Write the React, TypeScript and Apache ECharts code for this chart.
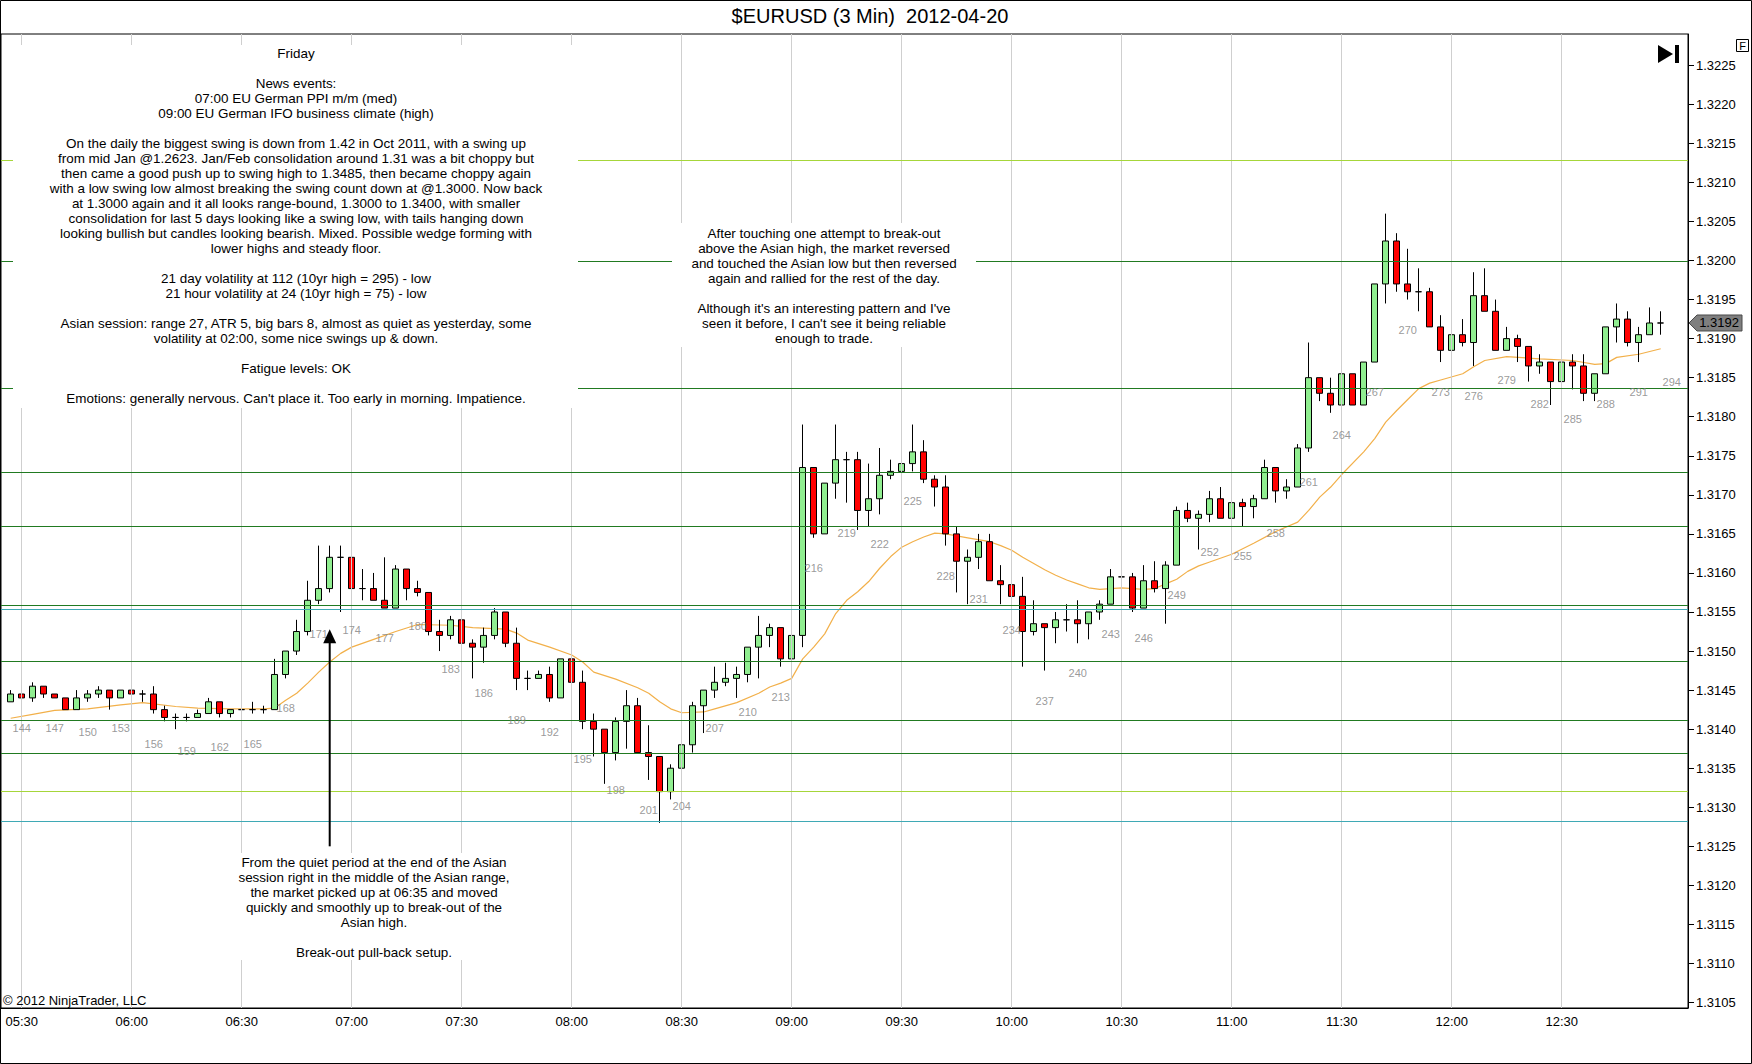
import React, { useEffect, useRef } from "react";
import * as echarts from "echarts";

// ---------- data (bar numbers 143..293, 3-minute bars) ----------
const FIRST_BAR = 143;

const opens = [
  1.31435, 1.31445, 1.3144, 1.31455, 1.31445, 1.3144, 1.31425, 1.3144, 1.31445, 1.3145,
  1.3144, 1.3145, 1.31445, 1.31445, 1.31425, 1.31415, 1.31415, 1.31415, 1.3142, 1.31435,
  1.3142, 1.31425, 1.31425, 1.31425, 1.31425, 1.3147, 1.315, 1.31525, 1.31565, 1.3158,
  1.3162, 1.3162, 1.3158, 1.3158, 1.31565, 1.31555, 1.31605, 1.3158, 1.31575, 1.31525,
  1.3152, 1.3154, 1.3151, 1.31505, 1.3152, 1.3155, 1.3151, 1.31465, 1.31465, 1.3147,
  1.3144, 1.3149, 1.3146, 1.3141, 1.314, 1.3137, 1.3141, 1.3143, 1.3137, 1.31365,
  1.3132, 1.3135, 1.3138, 1.3143, 1.3145, 1.3146, 1.31465, 1.3147, 1.31505, 1.3152,
  1.3153, 1.3149, 1.3152, 1.31735, 1.3165, 1.31715, 1.31745, 1.31745, 1.3168, 1.31695,
  1.31725, 1.3173, 1.3174, 1.31755, 1.3172, 1.3171, 1.3165, 1.31615, 1.3162, 1.3164,
  1.3159, 1.31585, 1.3157, 1.31525, 1.31535, 1.3153, 1.3154, 1.3154, 1.31535, 1.3155,
  1.3156, 1.31595, 1.31595, 1.31555, 1.3159, 1.3158, 1.3161, 1.3168, 1.3167, 1.31675,
  1.31695, 1.3167, 1.3169, 1.31685, 1.31695, 1.31735, 1.31705, 1.3171, 1.3176, 1.3185,
  1.3183, 1.31815, 1.31855, 1.31815, 1.3187, 1.3197, 1.32025, 1.3197, 1.3196, 1.3196,
  1.31915, 1.31885, 1.31905, 1.31895, 1.31955, 1.31935, 1.31885, 1.319, 1.3189, 1.31865,
  1.3187, 1.31845, 1.3187, 1.31865, 1.3183, 1.31855, 1.31915, 1.31925, 1.31895, 1.31905,
  1.3192,
];

const highs = [
  1.3145, 1.31445, 1.3146, 1.31455, 1.31445, 1.3144, 1.3145, 1.3145, 1.31455, 1.3145,
  1.3145, 1.3145, 1.3145, 1.31455, 1.3143, 1.3142, 1.3142, 1.31425, 1.3144, 1.31435,
  1.31425, 1.3143, 1.31435, 1.3143, 1.3149, 1.315, 1.3154, 1.3159, 1.31635, 1.31635,
  1.31635, 1.31625, 1.31605, 1.316, 1.3162, 1.3161, 1.31605, 1.3159, 1.31575, 1.3154,
  1.31545, 1.3156, 1.31515, 1.3153, 1.31555, 1.3155, 1.3153, 1.31475, 1.31475, 1.3148,
  1.3149, 1.31505, 1.31475, 1.3142, 1.314, 1.31415, 1.3145, 1.3144, 1.31405, 1.31365,
  1.31355, 1.31405, 1.31435, 1.3145, 1.3148, 1.31485, 1.3148, 1.31505, 1.31545, 1.31535,
  1.3153, 1.3152, 1.3179, 1.31735, 1.31715, 1.3179, 1.31755, 1.31755, 1.3174, 1.3176,
  1.31745, 1.31755, 1.3179, 1.3177, 1.31725, 1.31725, 1.3166, 1.3163, 1.3165, 1.3165,
  1.3161, 1.316, 1.31595, 1.31565, 1.31535, 1.3155, 1.3156, 1.31565, 1.3155, 1.31565,
  1.31605, 1.31615, 1.316, 1.3161, 1.31615, 1.31615, 1.31685, 1.3169, 1.3168, 1.31705,
  1.3171, 1.3169, 1.31695, 1.317, 1.31745, 1.31735, 1.3172, 1.31765, 1.31895, 1.3185,
  1.3185, 1.3189, 1.31855, 1.3187, 1.3197, 1.3206, 1.32035, 1.32015, 1.3199, 1.31965,
  1.3193, 1.3193, 1.31925, 1.31985, 1.3199, 1.3195, 1.31915, 1.31905, 1.3189, 1.3188,
  1.3187, 1.319, 1.3188, 1.3188, 1.31855, 1.31915, 1.31945, 1.31935, 1.31915, 1.3194,
  1.31935,
];

const lows = [
  1.31435, 1.3144, 1.31435, 1.3144, 1.3144, 1.31425, 1.31425, 1.31435, 1.3144, 1.31425,
  1.3144, 1.31445, 1.31435, 1.3142, 1.3141, 1.314, 1.3141, 1.31415, 1.3142, 1.31415,
  1.31415, 1.31415, 1.3142, 1.3142, 1.31425, 1.31465, 1.31495, 1.3152, 1.3156, 1.31575,
  1.3155, 1.31565, 1.31565, 1.31565, 1.31555, 1.31555, 1.31565, 1.3157, 1.3152, 1.315,
  1.31515, 1.31505, 1.31465, 1.31485, 1.31515, 1.31505, 1.3145, 1.3145, 1.31465, 1.31435,
  1.3144, 1.31455, 1.314, 1.31365, 1.3133, 1.3136, 1.31375, 1.3137, 1.31335, 1.3128,
  1.3131, 1.3134, 1.3137, 1.31395, 1.3144, 1.31455, 1.3144, 1.3146, 1.31465, 1.31505,
  1.3148, 1.3147, 1.31505, 1.31645, 1.3165, 1.31695, 1.3169, 1.31655, 1.3166, 1.31675,
  1.3172, 1.3172, 1.3173, 1.31715, 1.31685, 1.31635, 1.31575, 1.3156, 1.31605, 1.3159,
  1.3156, 1.31565, 1.3148, 1.3152, 1.31475, 1.3151, 1.31525, 1.3151, 1.31515, 1.3154,
  1.3156, 1.3158, 1.3155, 1.31555, 1.31575, 1.31535, 1.3161, 1.31665, 1.3163, 1.31665,
  1.3167, 1.31665, 1.3166, 1.3167, 1.31695, 1.3169, 1.31695, 1.3171, 1.31755, 1.3182,
  1.31805, 1.31815, 1.31815, 1.31815, 1.3187, 1.31945, 1.3196, 1.3195, 1.31935, 1.31915,
  1.3187, 1.31865, 1.3189, 1.31865, 1.31935, 1.31885, 1.31885, 1.3187, 1.31845, 1.31855,
  1.31815, 1.3183, 1.31835, 1.3182, 1.3182, 1.31855, 1.31895, 1.3189, 1.3187, 1.31905,
  1.31905,
];

const closes = [
  1.31445, 1.3144, 1.31455, 1.31445, 1.3144, 1.31425, 1.3144, 1.31445, 1.3145, 1.3144,
  1.3145, 1.31445, 1.31445, 1.31425, 1.31415, 1.31415, 1.31415, 1.3142, 1.31435, 1.3142,
  1.31425, 1.31425, 1.31425, 1.31425, 1.3147, 1.315, 1.31525, 1.31565, 1.3158, 1.3162,
  1.3162, 1.3158, 1.3158, 1.31565, 1.31555, 1.31605, 1.3158, 1.31575, 1.31525, 1.3152,
  1.3154, 1.3151, 1.31505, 1.3152, 1.3155, 1.3151, 1.31465, 1.31465, 1.3147, 1.3144,
  1.3149, 1.3146, 1.3141, 1.314, 1.3137, 1.3141, 1.3143, 1.3137, 1.31365, 1.3132,
  1.3135, 1.3138, 1.3143, 1.3145, 1.3146, 1.31465, 1.3147, 1.31505, 1.3152, 1.3153,
  1.3149, 1.3152, 1.31735, 1.3165, 1.31715, 1.31745, 1.31745, 1.3168, 1.31695, 1.31725,
  1.3173, 1.3174, 1.31755, 1.3172, 1.3171, 1.3165, 1.31615, 1.3162, 1.3164, 1.3159,
  1.31585, 1.3157, 1.31525, 1.31535, 1.3153, 1.3154, 1.3154, 1.31535, 1.3155, 1.3156,
  1.31595, 1.31595, 1.31555, 1.3159, 1.3158, 1.3161, 1.3168, 1.3167, 1.31675, 1.31695,
  1.3167, 1.3169, 1.31685, 1.31695, 1.31735, 1.31705, 1.3171, 1.3176, 1.3185, 1.3183,
  1.31815, 1.31855, 1.31815, 1.3187, 1.3197, 1.32025, 1.3197, 1.3196, 1.3196, 1.31915,
  1.31885, 1.31905, 1.31895, 1.31955, 1.31935, 1.31885, 1.319, 1.3189, 1.31865, 1.3187,
  1.31845, 1.3187, 1.31865, 1.3183, 1.31855, 1.31915, 1.31925, 1.31895, 1.31905, 1.3192,
  1.3192,
];

const emaBars = [
  143, 145, 147, 150, 153, 155, 158, 160, 163, 166, 167, 168, 169, 170, 171, 172, 173, 174,
  176, 178, 180, 183, 185, 188, 189, 190, 192, 194, 195, 196, 198, 200, 201, 202, 203, 204,
  206, 207, 209, 211, 212, 213, 214, 215, 216, 217, 218, 219, 220, 221, 222, 223, 224, 225,
  226, 227, 228, 230, 232, 233, 234, 235, 236, 237, 238, 239, 240, 241, 242, 244, 246, 247,
  248, 249, 250, 251, 252, 254, 256, 258, 260, 261, 262, 263, 264, 266, 267, 268, 269, 270,
  271, 272, 273, 275, 276, 277, 279, 282, 285, 287, 288, 289, 291, 293,
];
const emaValues = [
  1.31414, 1.31419, 1.31424, 1.31426, 1.31431, 1.31434, 1.31429, 1.31427, 1.31426, 1.31426,
  1.31427, 1.31437, 1.31446, 1.31459, 1.31473, 1.31486, 1.31497, 1.31505, 1.31515, 1.31525,
  1.31534, 1.31533, 1.3153, 1.31528, 1.31523, 1.31514, 1.31505, 1.31495, 1.31486, 1.31473,
  1.31464, 1.31453, 1.31446, 1.31435, 1.31426, 1.31421, 1.31422, 1.31426, 1.31434, 1.31446,
  1.31454, 1.31459, 1.31465, 1.3149, 1.31505, 1.31522, 1.31548, 1.31565, 1.31576, 1.31589,
  1.31606, 1.31621, 1.31633, 1.3164, 1.31646, 1.31651, 1.3165, 1.31645, 1.3164, 1.31635,
  1.31629, 1.3162, 1.31612, 1.31604, 1.31597, 1.31591, 1.31586, 1.31581, 1.31579, 1.31581,
  1.31579, 1.3158, 1.31586, 1.31592, 1.31602, 1.31609, 1.31614, 1.31624, 1.31638, 1.31653,
  1.31665, 1.3168, 1.31697, 1.3171, 1.31726, 1.31755, 1.31772, 1.31793, 1.31808, 1.31822,
  1.31836, 1.31843, 1.31847, 1.31855, 1.31864, 1.31872, 1.31877, 1.31874, 1.31872, 1.31867,
  1.31868, 1.31876, 1.3188, 1.31887,
];

const barLabelEvery = 3;
const firstLabelledBar = 144;
const pendingBarNumber = 294;
const pendingBarLow = 1.31883;

const timeLabelBars = [144, 154, 164, 174, 184, 194, 204, 214, 224, 234, 244, 254, 264, 274, 284];
const timeLabels = [
  "05:30", "06:00", "06:30", "07:00", "07:30", "08:00", "08:30", "09:00",
  "09:30", "10:00", "10:30", "11:00", "11:30", "12:00", "12:30",
];

const priceTicks = [
  1.3105, 1.311, 1.3115, 1.312, 1.3125, 1.313, 1.3135, 1.314, 1.3145, 1.315, 1.3155, 1.316,
  1.3165, 1.317, 1.3175, 1.318, 1.3185, 1.319, 1.3195, 1.32, 1.3205, 1.321, 1.3215, 1.322, 1.3225,
];

const greenLevels = [1.31999, 1.31837, 1.31729, 1.3166, 1.31559, 1.31487, 1.31412, 1.31369];
const yellowLevels = [1.32128, 1.3132];
const cyanLevels = [1.31554, 1.31282];

const lastPrice = 1.3192;

const arrowBar = 172;
const arrowTipPrice = 1.31528;
const arrowTailPrice = 1.3125;

const titleText = "$EURUSD (3 Min)  2012-04-20";
const copyrightText = "\u00a9 2012 NinjaTrader, LLC";

const notesTopLeft = [
  "Friday",
  "",
  "News events:",
  "07:00 EU German PPI m/m (med)",
  "09:00 EU German IFO business climate (high)",
  "",
  "On the daily the biggest swing is down from 1.42 in Oct 2011, with a swing up",
  "from mid Jan @1.2623. Jan/Feb consolidation around 1.31 was a bit choppy but",
  "then came a good push up to swing high to 1.3485, then became choppy again",
  "with a low swing low almost breaking the swing count down at @1.3000. Now back",
  "at 1.3000 again and it all looks range-bound, 1.3000 to 1.3400, with smaller",
  "consolidation for last 5 days looking like a swing low, with tails hanging down",
  "looking bullish but candles looking bearish. Mixed. Possible wedge forming with",
  "lower highs and steady floor.",
  "",
  "21 day volatility at 112 (10yr high = 295) - low",
  "21 hour volatility at 24 (10yr high = 75) - low",
  "",
  "Asian session: range 27, ATR 5, big bars 8, almost as quiet as yesterday, some",
  "volatility at 02:00, some nice swings up & down.",
  "",
  "Fatigue levels: OK",
  "",
  "Emotions: generally nervous. Can't place it. Too early in morning. Impatience.",
];

const notesMiddle = [
  "After touching one attempt to break-out",
  "above the Asian high, the market reversed",
  "and touched the Asian low but then reversed",
  "again and rallied for the rest of the day.",
  "",
  "Although it's an interesting pattern and I've",
  "seen it before, I can't see it being reliable",
  "enough to trade.",
];

const notesBottom = [
  "From the quiet period at the end of the Asian",
  "session right in the middle of the Asian range,",
  "the market picked up at 06:35 and moved",
  "quickly and smoothly up to break-out of the",
  "Asian high.",
  "",
  "Break-out pull-back setup.",
];

// ---------- component ----------
const FONT = '"Liberation Sans", Arial, Helvetica, sans-serif';

export default function App() {
  const ref = useRef<HTMLDivElement>(null);

  useEffect(() => {
    document.body.style.margin = "0";
    const el = ref.current;
    if (!el) return;
    const chart = echarts.init(el, null, { renderer: "svg", width: 1752, height: 1064 });

    const candleData = opens.map((o, i) => [FIRST_BAR + i, o, closes[i], lows[i], highs[i]]);
    const emaData = emaBars.map((b, i) => [b, emaValues[i]]);
    const labelData: number[][] = [];
    for (let n = firstLabelledBar; n < FIRST_BAR + opens.length; n += barLabelEvery) {
      labelData.push([n, lows[n - FIRST_BAR]]);
    }
    labelData.push([pendingBarNumber, pendingBarLow]);

    const levelLines = [
      ...greenLevels.map((p) => ({ yAxis: p, lineStyle: { color: "#217a21", width: 1, type: "solid" } })),
      ...yellowLevels.map((p) => ({ yAxis: p, lineStyle: { color: "#a6d63a", width: 1.2, type: "solid" } })),
      ...cyanLevels.map((p) => ({ yAxis: p, lineStyle: { color: "#3fa9b5", width: 1, type: "solid" } })),
    ];
    const gridLines = timeLabelBars.map((b) => ({
      xAxis: b,
      lineStyle: { color: "#cfcfcf", width: 1, type: "solid" },
    }));

    chart.setOption({
      animation: false,
      backgroundColor: "#ffffff",
      grid: {
        left: 1,
        right: 64,
        top: 34,
        bottom: 56,
        show: true,
        borderColor: "#000",
        borderWidth: 1,
        backgroundColor: "#ffffff",
      },
      xAxis: {
        type: "value",
        min: 142.118,
        max: 295.48,
        axisLine: { show: true, lineStyle: { color: "#000", width: 1 } },
        axisTick: { show: false, customValues: timeLabelBars },
        axisLabel: {
          customValues: timeLabelBars,
          formatter: (v: number) => {
            const k = timeLabelBars.indexOf(Math.round(v));
            return k >= 0 ? timeLabels[k] : "";
          },
          color: "#000",
          fontSize: 13,
          fontFamily: FONT,
          margin: 7,
        },
        splitLine: { show: false },
      },
      yAxis: {
        type: "value",
        position: "right",
        min: 1.31043,
        max: 1.3229,
        axisLine: { show: true, lineStyle: { color: "#000", width: 1 } },
        axisTick: {
          show: true,
          inside: false,
          length: 6,
          lineStyle: { color: "#000" },
          customValues: priceTicks,
        },
        axisLabel: {
          customValues: priceTicks,
          formatter: (v: number) => v.toFixed(4),
          color: "#000",
          fontSize: 13,
          fontFamily: FONT,
          margin: 8,
        },
        splitLine: { show: false },
      },
      series: [
        {
          type: "line",
          data: [],
          z: 1,
          markLine: {
            silent: true,
            symbol: ["none", "none"],
            precision: 6,
            label: { show: false },
            data: gridLines,
          },
        },
        {
          type: "line",
          data: [],
          z: 2,
          markLine: {
            silent: true,
            symbol: ["none", "none"],
            precision: 6,
            label: { show: false },
            data: levelLines,
          },
        },
        {
          type: "line",
          data: emaData,
          z: 3,
          symbol: "none",
          smooth: false,
          lineStyle: { color: "#f2b04a", width: 1.2 },
        },
        {
          type: "candlestick",
          data: candleData,
          z: 4,
          barWidth: 7,
          itemStyle: {
            color: "#90ee90",
            color0: "#ff0000",
            borderColor: "#000",
            borderColor0: "#000",
            borderColorDoji: "#000",
            borderWidth: 1,
          },
        },
        {
          type: "scatter",
          data: labelData,
          z: 5,
          symbol: "circle",
          symbolSize: 0.1,
          itemStyle: { color: "rgba(0,0,0,0)" },
          label: {
            show: true,
            position: "inside",
            offset: [0, 30],
            formatter: (p: any) => String(p.value[0]),
            color: "#808080",
            fontSize: 11,
            fontFamily: FONT,
          },
        },
      ],
    });

    const ax = chart.convertToPixel({ xAxisIndex: 0 }, arrowBar) as number;
    const tipY = chart.convertToPixel({ yAxisIndex: 0 }, arrowTipPrice) as number;
    const tailY = chart.convertToPixel({ yAxisIndex: 0 }, arrowTailPrice) as number;
    const tagY = chart.convertToPixel({ yAxisIndex: 0 }, lastPrice) as number;

    const textStyle = (txt: string, size: number, align: string, vAlign: string, extra: any = {}) => ({
      text: txt,
      fill: "#000",
      fontSize: size,
      fontFamily: FONT,
      textAlign: align,
      textVerticalAlign: vAlign,
      align,
      verticalAlign: vAlign,
      ...extra,
    });

    const NOTE_SIZE = 13.45;
    const noteBox = (lines: string[], box: number[], cx: number, top: number) => [
      {
        type: "rect",
        z: 100,
        shape: { x: box[0], y: box[1], width: box[2], height: box[3] },
        style: { fill: "#ffffff" },
        silent: true,
      },
      {
        type: "text",
        z: 101,
        x: cx,
        y: top,
        silent: true,
        style: textStyle(lines.join("\n"), NOTE_SIZE, "center", "top", { lineHeight: 15 }),
      },
    ];

    chart.setOption({
      graphic: [
        ...noteBox(notesTopLeft, [13, 45, 565, 363], 296, 45.5),
        ...noteBox(notesMiddle, [672, 223, 304, 124], 824, 225.5),
        ...noteBox(notesBottom, [222, 853, 304, 107], 374, 855),
        {
          type: "line",
          z: 110,
          silent: true,
          shape: { x1: ax, y1: tipY + 12, x2: ax, y2: tailY },
          style: { stroke: "#000", lineWidth: 2 },
        },
        {
          type: "polygon",
          z: 111,
          silent: true,
          shape: { points: [[ax - 6.5, tipY + 14], [ax + 6.5, tipY + 14], [ax, tipY]] },
          style: { fill: "#000" },
        },
        {
          type: "text",
          z: 120,
          x: 870,
          y: 16,
          silent: true,
          style: textStyle(titleText, 20, "center", "middle"),
        },
        {
          type: "text",
          z: 120,
          x: 3,
          y: 1000,
          silent: true,
          style: textStyle(copyrightText, 13, "left", "middle"),
        },
        {
          type: "polygon",
          z: 120,
          silent: true,
          shape: {
            points: [[1689, tagY], [1697, tagY - 8], [1742, tagY - 8], [1742, tagY + 8], [1697, tagY + 8]],
          },
          style: { fill: "#7f7f7f", stroke: "#4a4a4a", lineWidth: 1 },
        },
        {
          type: "text",
          z: 121,
          x: 1719,
          y: tagY,
          silent: true,
          style: textStyle(lastPrice.toFixed(4), 13, "center", "middle"),
        },
        {
          type: "polygon",
          z: 120,
          silent: true,
          shape: { points: [[1658, 45], [1658, 63], [1673, 54]] },
          style: { fill: "#000" },
        },
        {
          type: "rect",
          z: 120,
          silent: true,
          shape: { x: 1675, y: 45, width: 4, height: 18 },
          style: { fill: "#000" },
        },
        {
          type: "rect",
          z: 120,
          silent: true,
          shape: { x: 1736.5, y: 39.5, width: 12, height: 12 },
          style: { fill: "#fff", stroke: "#000", lineWidth: 1 },
        },
        {
          type: "text",
          z: 121,
          x: 1742.5,
          y: 46,
          silent: true,
          style: textStyle("F", 11, "center", "middle"),
        },
        {
          type: "rect",
          z: 130,
          silent: true,
          shape: { x: 0.5, y: 0.5, width: 1751, height: 1063 },
          style: { fill: "none", stroke: "#000", lineWidth: 1 },
        },
      ],
    });

    return () => {
      chart.dispose();
    };
  }, []);

  return <div ref={ref} style={{ width: 1752, height: 1064 }} />;
}
